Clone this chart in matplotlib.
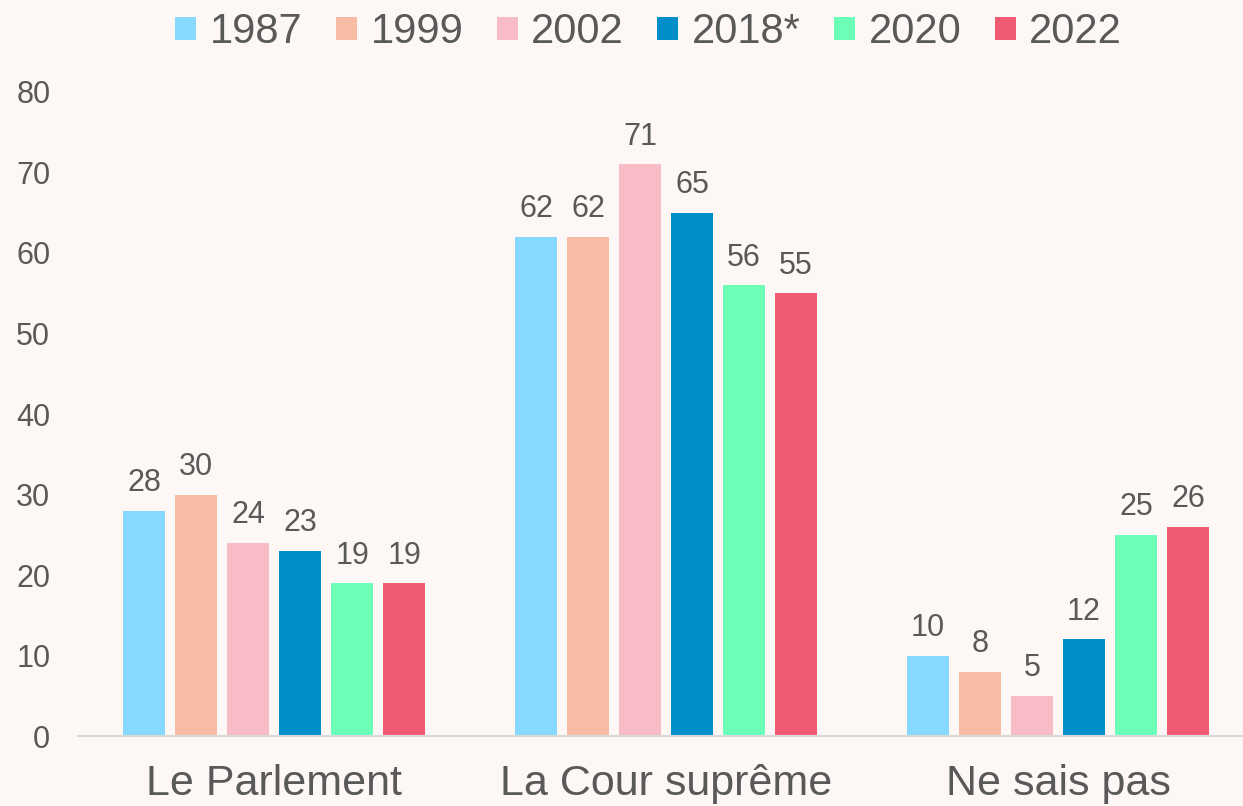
import matplotlib.pyplot as plt
import numpy as np

plt.rcParams['font.family'] = ['Liberation Sans', 'DejaVu Sans']

categories = ["Le Parlement", "La Cour suprême", "Ne sais pas"]
years = ["1987", "1999", "2002", "2018*", "2020", "2022"]
values = [
    [28, 62, 10],   # 1987
    [30, 62, 8],    # 1999
    [24, 71, 5],    # 2002
    [23, 65, 12],   # 2018*
    [19, 56, 25],   # 2020
    [19, 55, 26],   # 2022
]
colors = ["#87d9ff", "#f8bca4", "#f8bcc6", "#008fc9", "#6bffb8", "#ef5a73"]

bg = "#fdf8f5"
txt = "#595959"

fig = plt.figure(figsize=(12.43, 8.06), dpi=100, facecolor=bg)
ax = fig.add_axes([0.0628, 0.0868, 0.9372, 0.7991], facecolor=bg)

x = np.arange(len(categories))
step = 0.1327
width = 0.107
n = len(years)
for i, (yr, vals, c) in enumerate(zip(years, values, colors)):
    pos = x + (i - (n - 1) / 2) * step
    bars = ax.bar(pos, vals, width, color=c, label=yr)
    for b, v in zip(bars, vals):
        ax.annotate(str(v), (b.get_x() + b.get_width() / 2, v),
                    xytext=(0, 9), textcoords="offset points",
                    ha="center", va="bottom", fontsize=22, color=txt)

ax.set_xlim(-0.5, 2.472)
ax.set_ylim(0, 80)
ax.set_yticks(range(0, 81, 10))
ax.set_xticks(x)
ax.set_xticklabels(categories)
ax.tick_params(axis="y", length=0, pad=20, labelsize=22, labelcolor=txt)
ax.tick_params(axis="x", length=0, pad=20, labelsize=31, labelcolor=txt)
for s in ["top", "right", "left"]:
    ax.spines[s].set_visible(False)
ax.spines["bottom"].set_color("#d9d9d9")
ax.spines["bottom"].set_linewidth(1.5)

fig.legend(loc="center", bbox_to_anchor=(0.522, 0.96), ncol=6, frameon=False,
           fontsize=30, labelcolor=txt, handlelength=0.5, handleheight=0.5,
           handletextpad=0.33, columnspacing=0.8)

fig.savefig("out.png", dpi=100, facecolor=bg)
